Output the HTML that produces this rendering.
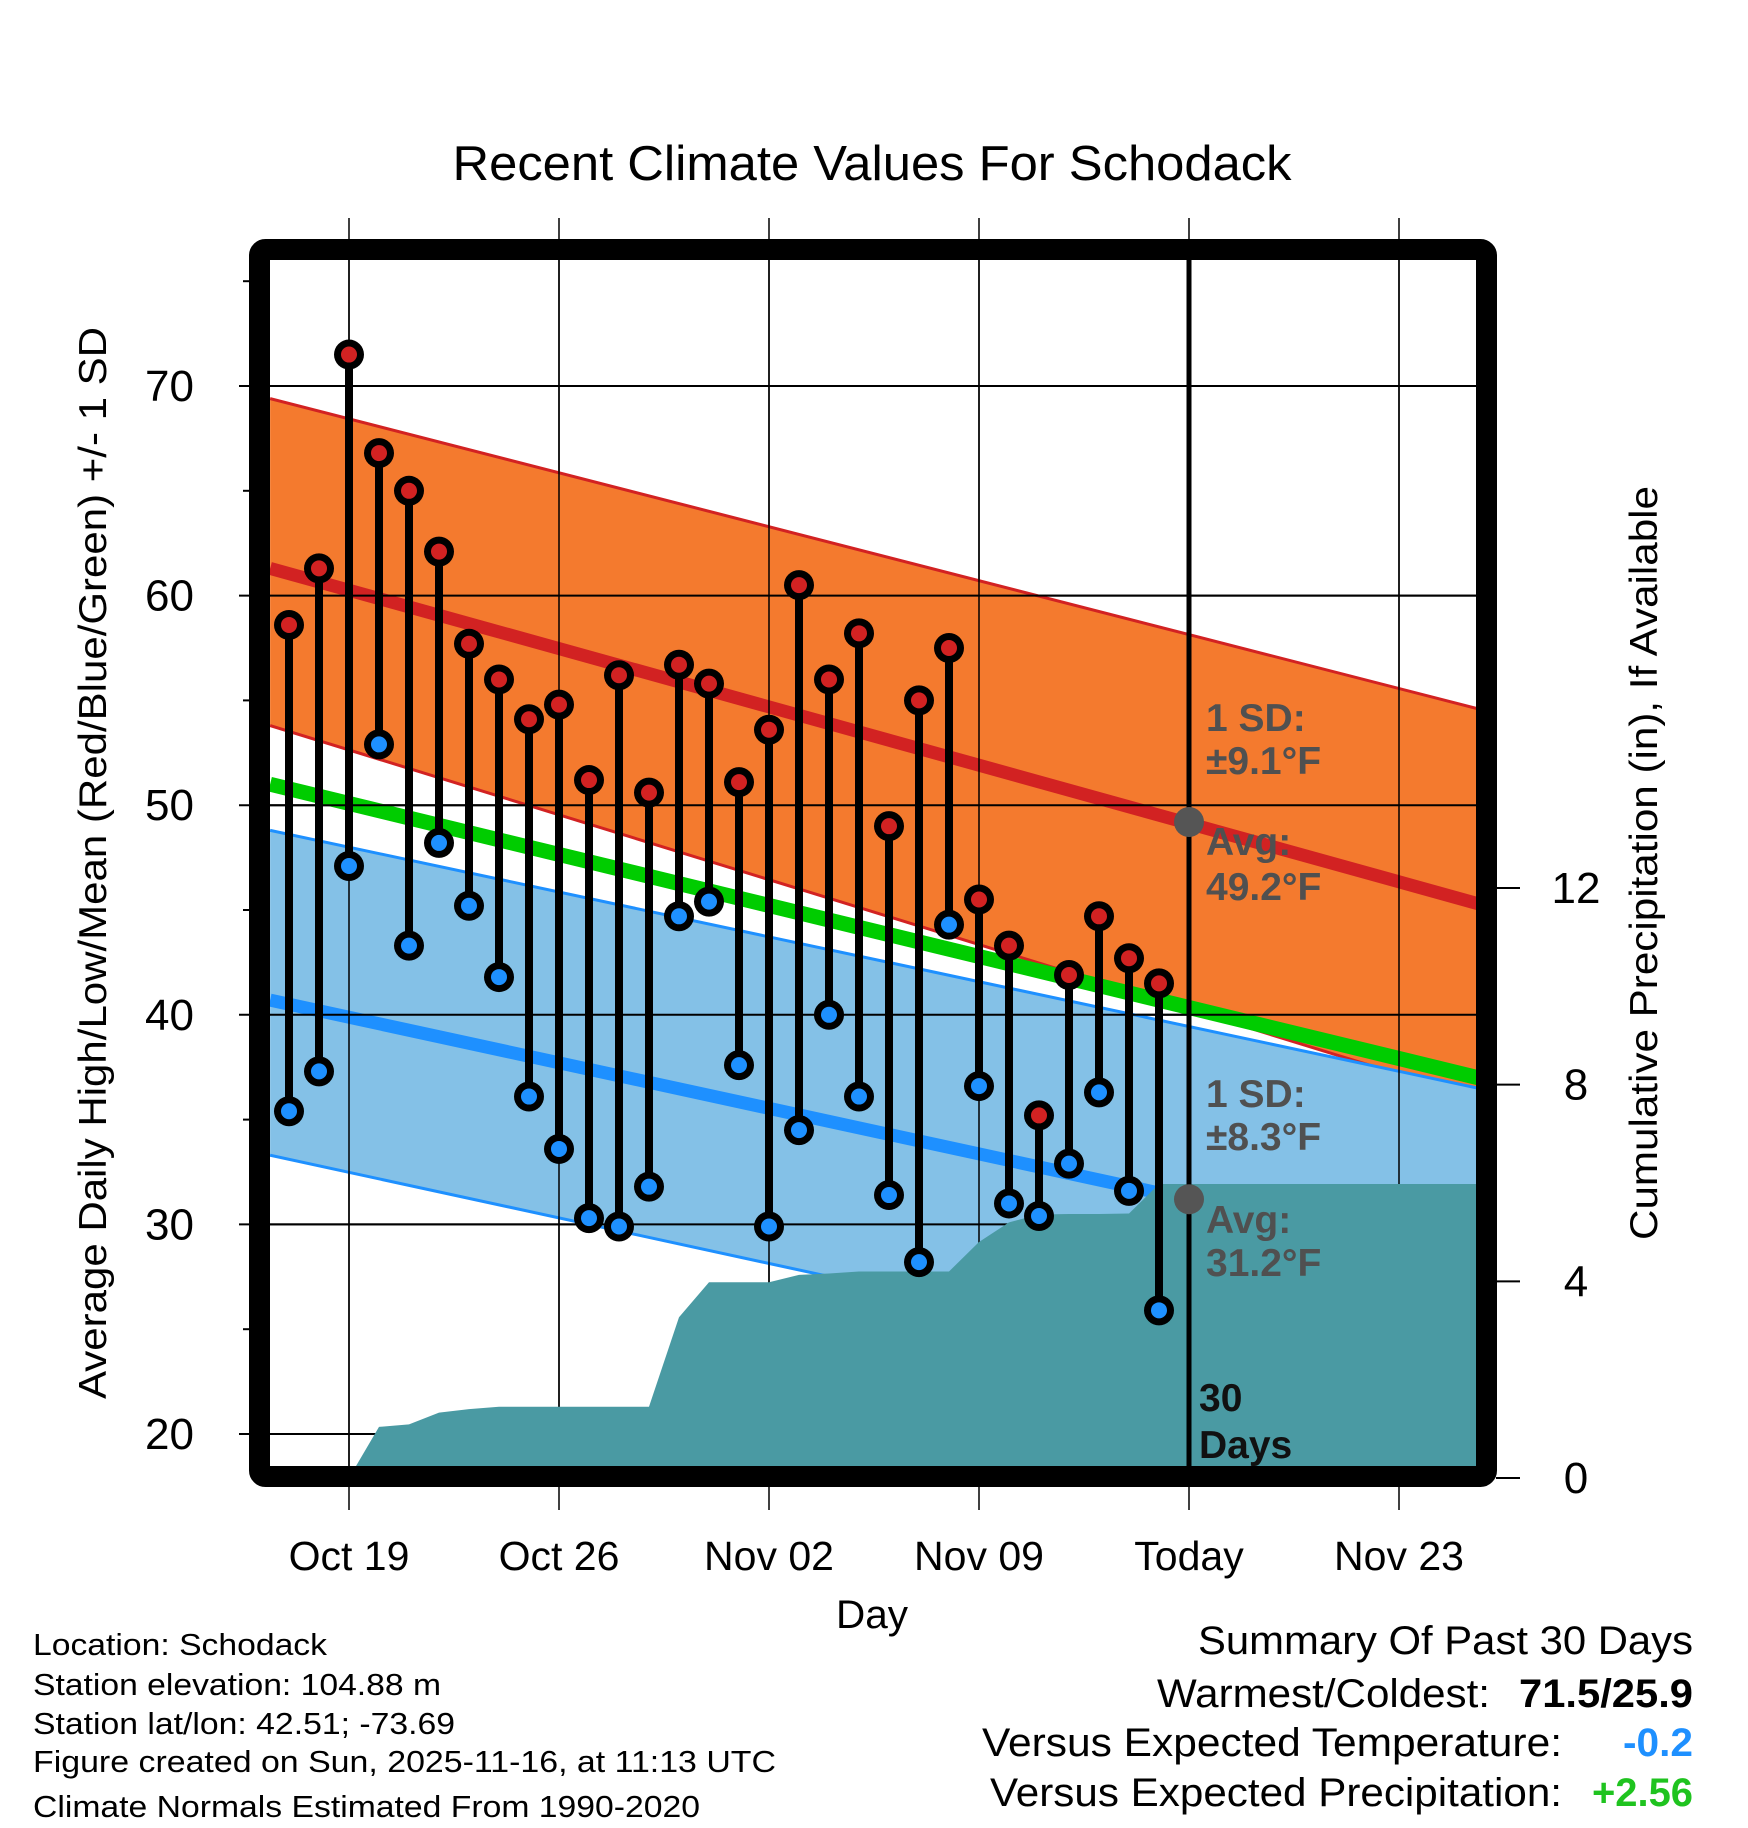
<!DOCTYPE html>
<html><head><meta charset="utf-8"><style>
html,body{margin:0;padding:0;background:#fff}
svg{display:block;font-family:"Liberation Sans",Arial,sans-serif}
</style></head><body>
<svg id="chart" width="1748" height="1828" viewBox="0 0 1748 1828" xmlns="http://www.w3.org/2000/svg">
<defs><clipPath id="plotclip"><rect x="270" y="260" width="1208" height="1209"/></clipPath></defs>
<rect width="1748" height="1828" fill="#fff"/>
<text x="872" y="180" font-size="49" text-anchor="middle" textLength="839" lengthAdjust="spacingAndGlyphs">Recent Climate Values For Schodack</text>
<g id="grid"></g>
<g id="bands" clip-path="url(#plotclip)"></g>
<g id="precip" clip-path="url(#plotclip)"></g>
<g id="series"></g>
<g id="annot"></g>
<rect x="259.5" y="249.5" width="1227" height="1227" rx="6" fill="none" stroke="#000" stroke-width="21"/>
<g id="axes"></g>
<text x="872" y="1628" font-size="40" text-anchor="middle" textLength="72" lengthAdjust="spacingAndGlyphs">Day</text>
<text transform="translate(106,863) rotate(-90)" font-size="39" text-anchor="middle" textLength="1072" lengthAdjust="spacingAndGlyphs">Average Daily High/Low/Mean (Red/Blue/Green) +/- 1 SD</text>
<text transform="translate(1657,863) rotate(-90)" font-size="39" text-anchor="middle" textLength="754" lengthAdjust="spacingAndGlyphs">Cumulative Precipitation (in), If Available</text>
<g font-size="31">
<text x="33" y="1655" textLength="294" lengthAdjust="spacingAndGlyphs">Location: Schodack</text>
<text x="33" y="1695" textLength="408" lengthAdjust="spacingAndGlyphs">Station elevation: 104.88 m</text>
<text x="33" y="1734" textLength="422" lengthAdjust="spacingAndGlyphs">Station lat/lon: 42.51; -73.69</text>
<text x="33" y="1772" textLength="743" lengthAdjust="spacingAndGlyphs">Figure created on Sun, 2025-11-16, at 11:13 UTC</text>
<text x="33" y="1817" textLength="667" lengthAdjust="spacingAndGlyphs">Climate Normals Estimated From 1990-2020</text>
</g>
<g font-size="40">
<text x="1198" y="1654" textLength="495" lengthAdjust="spacingAndGlyphs">Summary Of Past 30 Days</text>
<text x="1157" y="1707" textLength="333" lengthAdjust="spacingAndGlyphs">Warmest/Coldest:</text>
<text x="1519" y="1707" font-weight="bold" textLength="174" lengthAdjust="spacingAndGlyphs">71.5/25.9</text>
<text x="982" y="1756" textLength="580" lengthAdjust="spacingAndGlyphs">Versus Expected Temperature:</text>
<text x="1623" y="1756" font-weight="bold" fill="#1e90ff" textLength="70" lengthAdjust="spacingAndGlyphs">-0.2</text>
<text x="990" y="1806" textLength="572" lengthAdjust="spacingAndGlyphs">Versus Expected Precipitation:</text>
<text x="1592" y="1806" font-weight="bold" fill="#1fc31f" textLength="101" lengthAdjust="spacingAndGlyphs">+2.56</text>
</g>
</svg>
<script>
// Data (day index 0 = Oct 19)
const days = [-2,-1,0,1,2,3,4,5,6,7,8,9,10,11,12,13,14,15,16,17,18,19,20,21,22,23,24,25,26,27];
const highs = [58.6,61.3,71.5,66.8,65.0,62.1,57.7,56.0,54.1,54.8,51.2,56.2,50.6,56.7,55.8,51.1,53.6,60.5,56.0,58.2,49.0,55.0,57.5,45.5,43.3,35.2,41.9,44.7,42.7,41.5];
const lows = [35.4,37.3,47.1,52.9,43.3,48.2,45.2,41.8,36.1,33.6,30.3,29.9,31.8,44.7,45.4,37.6,29.9,34.5,40.0,36.1,31.4,28.2,44.3,36.6,31.0,30.4,32.9,36.3,31.6,25.9];
const precip = [0,0,0,1.04,1.09,1.33,1.40,1.45,1.45,1.45,1.45,1.45,1.45,3.27,3.98,3.98,3.98,4.13,4.16,4.20,4.20,4.20,4.20,4.80,5.20,5.36,5.37,5.37,5.38,5.98];
const edgeDays = [-2.63, 37.63];
const highMean = [61.3, 45.3];
const highUpper = [69.4, 54.6];
const highLower = [53.8, 36.0];
const meanLine = [51.0, 37.0];
const lowMean = [40.7, 28.2];
const lowUpper = [48.8, 36.5];
const lowLower = [33.3, 20.8];
const todayDay = 28;
const todayHighAvg = 49.2;
const todayLowAvg = 31.2;
const weekTicks = [0,7,14,21,28,35];
const weekLabels = ["Oct 19","Oct 26","Nov 02","Nov 09","Today","Nov 23"];
const tempTicks = [20,30,40,50,60,70];
const minorTicks = [25,35,45,55,65,75];
const precipTicks = [0,4,8,12];

const xS = d => 349 + 30*d;
const yT = t => 386 + (70 - t)*20.96;
const yP = p => 1478 - p*49.17;
const NS = "http://www.w3.org/2000/svg";
function mk(tag, attrs, parent){const e=document.createElementNS(NS,tag);for(const k in attrs)e.setAttribute(k,attrs[k]);parent.appendChild(e);return e;}

const grid = document.getElementById('grid');
weekTicks.forEach((d,i)=>{
  const l = mk('line',{x1:xS(d),x2:xS(d),y1:218,y2:1510,stroke:'#000','stroke-width':1.5},grid);
  
  
});
tempTicks.forEach(t=>{
  const l = mk('line',{x1:239,x2:1478,y1:yT(t),y2:yT(t),stroke:'#000','stroke-width':2},grid);
  
  
});

const bands = document.getElementById('bands');
function lineAt(arr){return [[xS(edgeDays[0]),yT(arr[0])],[xS(edgeDays[1]),yT(arr[1])]];}
function poly(up, lo, fill, name){
  const a=lineAt(up), b=lineAt(lo);
  const p = mk('polygon',{points:[a[0],a[1],b[1],b[0]].map(q=>q.join(',')).join(' '),fill:fill},bands);
  
  
}
function seg(arr, color, w, name){
  const a=lineAt(arr);
  const l = mk('line',{x1:a[0][0],y1:a[0][1],x2:a[1][0],y2:a[1][1],stroke:color,'stroke-width':w},bands);
  
  
}
poly(highUpper, highLower, '#f47a2e', 'high-sd-band');
seg(highUpper,'#d22222',3,'high-upper-line');
seg(highLower,'#d22222',3,'high-lower-line');
seg(highMean,'#d22222',13,'high-mean-line');
poly(lowUpper, lowLower, '#84c1e7', 'low-sd-band');
seg(lowUpper,'#1e90ff',3,'low-upper-line');
seg(lowLower,'#1e90ff',3,'low-lower-line');
seg(lowMean,'#1e90ff',13,'low-mean-line');
seg(meanLine,'#00cc00',15,'mean-line');
weekTicks.forEach(d=>{const l=mk('line',{x1:xS(d),x2:xS(d),y1:250,y2:1478,stroke:'#000','stroke-width':1.5},bands);
  
  });
tempTicks.forEach(t=>{const l=mk('line',{x1:259,x2:1478,y1:yT(t),y2:yT(t),stroke:'#000','stroke-width':2},bands);
  
  });

const pg = document.getElementById('precip');
let pts = [[xS(days[0]),yP(0)]];
days.forEach((d,i)=>pts.push([xS(d),yP(precip[i])]));
pts.push([xS(edgeDays[1]+1),yP(precip[precip.length-1])]);
pts.push([xS(edgeDays[1]+1),yP(0)]);
const pa = mk('polygon',{points:pts.map(q=>q.join(',')).join(' '),fill:'#4a9aa3'},pg);



const sg = document.getElementById('series');
const tl = mk('line',{x1:xS(todayDay),x2:xS(todayDay),y1:255,y2:1472,stroke:'#000','stroke-width':5},sg);


days.forEach((d,i)=>{
  const x=xS(d);
  const s = mk('line',{x1:x,x2:x,y1:yT(highs[i]),y2:yT(lows[i]),stroke:'#000','stroke-width':8},sg);
  
  
});
days.forEach((d,i)=>{
  const x=xS(d);
  [[highs[i],'#d22222','high-point'],[lows[i],'#1e90ff','low-point']].forEach(([v,c,n])=>{
    const o = mk('circle',{cx:x,cy:yT(v),r:15,fill:'#000'},sg);
    
    
    const p = mk('circle',{cx:x,cy:yT(v),r:8,fill:c},sg);
    
    
  });
});
[todayHighAvg,todayLowAvg].forEach(v=>{
  const c = mk('circle',{cx:xS(todayDay),cy:yT(v),r:15,fill:'#555'},sg);
  
  
});

const an = document.getElementById('annot');
const notes = [["1 SD:",731],["±9.1°F",774],["Avg:",855],["49.2°F",900],["1 SD:",1107],["±8.3°F",1150],["Avg:",1233],["31.2°F",1276]];
notes.forEach(([t,y])=>{
  const e = mk('text',{x:1206,y:y,'font-size':39,'font-weight':'bold',fill:'#505050'},an);
  e.textContent=t;
  
  
});
[["30",1411],["Days",1458]].forEach(([t,y])=>{
  const e = mk('text',{x:1199,y:y,'font-size':39,'font-weight':'bold',fill:'#111'},an);
  e.textContent=t;
  
  
});

const ax = document.getElementById('axes');
weekTicks.forEach((d,i)=>{
  const e = mk('text',{x:xS(d),y:1570,'font-size':41,'text-anchor':'middle'},ax);
  e.textContent = weekLabels[i];
  
  
});
tempTicks.forEach(t=>{
  const e = mk('text',{x:194,y:yT(t)+15,'font-size':44,'text-anchor':'end'},ax);
  e.textContent = t;
  
  
});
minorTicks.forEach(t=>{
  const l = mk('line',{x1:243,x2:252,y1:yT(t),y2:yT(t),stroke:'#000','stroke-width':2},ax);
  
  
});
precipTicks.forEach(p=>{
  const l = mk('line',{x1:1496,x2:1520,y1:yP(p),y2:yP(p),stroke:'#000','stroke-width':2},ax);
  
  
  const e = mk('text',{x:1576,y:yP(p)+15,'font-size':44,'text-anchor':'middle'},ax);
  e.textContent = p;
  
  
});
</script>
</body></html>
